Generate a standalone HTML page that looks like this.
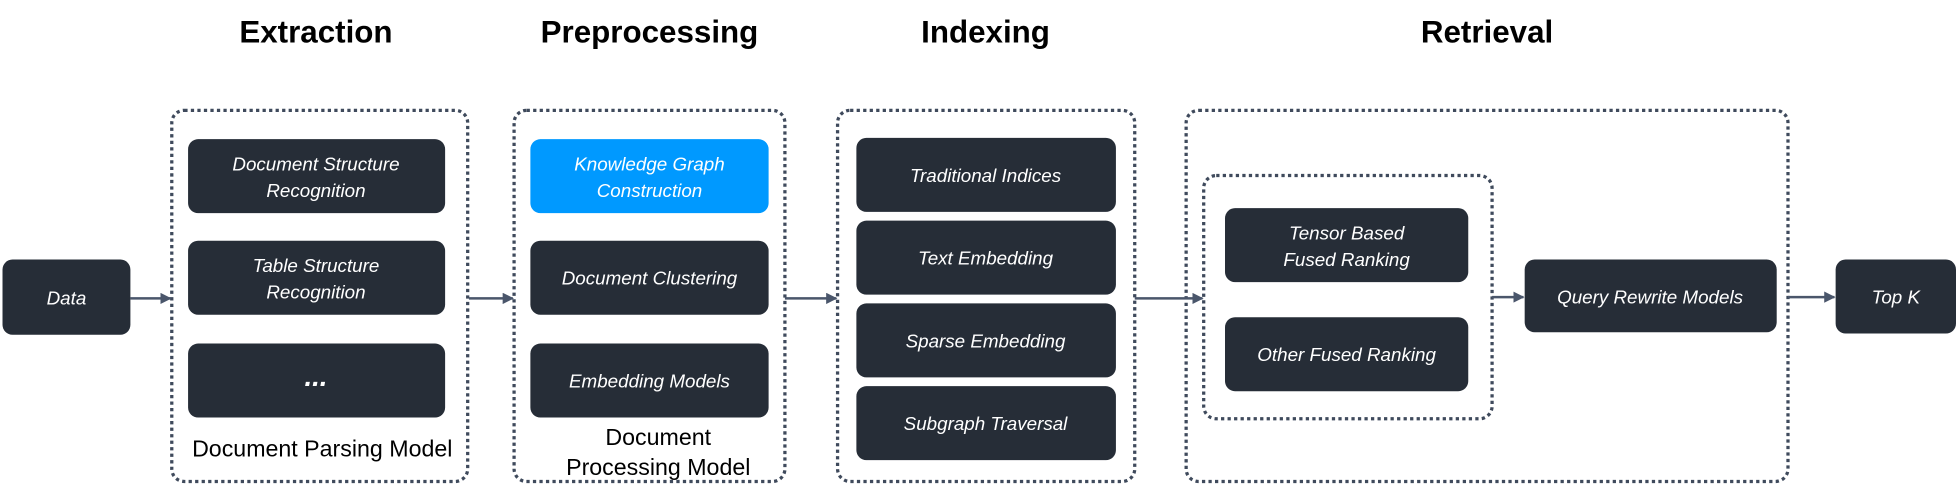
<!DOCTYPE html>
<html><head><meta charset="utf-8"><style>
html,body{margin:0;padding:0;background:#fff;width:1956px;height:491px;overflow:hidden}
svg{display:block}
.t{font-family:"Liberation Sans",sans-serif;font-weight:bold;font-size:25px;fill:#000;text-anchor:middle}
.b{fill:#262d37}
.l{font-family:"Liberation Sans",sans-serif;font-style:italic;font-size:15px;fill:#fff;text-anchor:middle}
.p{font-family:"Liberation Sans",sans-serif;font-size:18.5px;fill:#000;text-anchor:middle}
.d{fill:none;stroke:#3f4a5c;stroke-width:2.6;stroke-dasharray:2.6 2.6}
.a{stroke:#4a566b;stroke-width:2}
</style></head><body>
<svg width="1956" height="491" viewBox="0 0 1560 391.6" preserveAspectRatio="none">
<defs><marker id="m" viewBox="0 0 10 10" refX="9" refY="5" markerWidth="4.5" markerHeight="4.5" orient="auto"><path d="M0,0L10,5L0,10z" fill="#4a566b"/></marker></defs>
<text class="t" x="252" y="34">Extraction</text>
<text class="t" x="518" y="34">Preprocessing</text>
<text class="t" x="786" y="34">Indexing</text>
<text class="t" x="1186" y="34">Retrieval</text>

<rect class="d" x="137" y="88" width="236" height="296" rx="10"/>
<rect class="d" x="410" y="88" width="216" height="296" rx="10"/>
<rect class="d" x="668" y="88" width="237" height="296" rx="10"/>
<rect class="d" x="946" y="88" width="480" height="296" rx="10"/>
<rect class="d" x="960" y="140" width="230" height="194" rx="10"/>

<rect class="b" x="2" y="207" width="102" height="60" rx="8"/>
<text class="l" x="53" y="243">Data</text>

<rect class="b" x="150" y="111" width="205" height="59" rx="8"/>
<text class="l" x="252" y="136">Document Structure</text><text class="l" x="252" y="157">Recognition</text>
<rect class="b" x="150" y="192" width="205" height="59" rx="8"/>
<text class="l" x="252" y="217">Table Structure</text><text class="l" x="252" y="238">Recognition</text>
<rect class="b" x="150" y="274" width="205" height="59" rx="8"/>
<text class="l" x="252" y="308" style="font-size:22px;font-weight:bold">...</text>
<text class="p" x="257" y="364">Document Parsing Model</text>

<rect x="423" y="111" width="190" height="59" rx="8" fill="#0099ff"/>
<text class="l" x="518" y="136">Knowledge Graph</text><text class="l" x="518" y="157">Construction</text>
<rect class="b" x="423" y="192" width="190" height="59" rx="8"/>
<text class="l" x="518" y="227">Document Clustering</text>
<rect class="b" x="423" y="274" width="190" height="59" rx="8"/>
<text class="l" x="518" y="309">Embedding Models</text>
<text class="p" x="525" y="355">Document</text>
<text class="p" x="525" y="379">Processing Model</text>

<rect class="b" x="683" y="110" width="207" height="59" rx="8"/>
<text class="l" x="786" y="145">Traditional Indices</text>
<rect class="b" x="683" y="176" width="207" height="59" rx="8"/>
<text class="l" x="786" y="211">Text Embedding</text>
<rect class="b" x="683" y="242" width="207" height="59" rx="8"/>
<text class="l" x="786" y="277">Sparse Embedding</text>
<rect class="b" x="683" y="308" width="207" height="59" rx="8"/>
<text class="l" x="786" y="343">Subgraph Traversal</text>

<rect class="b" x="977" y="166" width="194" height="59" rx="8"/>
<text class="l" x="1074" y="191">Tensor Based</text><text class="l" x="1074" y="212">Fused Ranking</text>
<rect class="b" x="977" y="253" width="194" height="59" rx="8"/>
<text class="l" x="1074" y="288">Other Fused Ranking</text>
<rect class="b" x="1216" y="207" width="201" height="58" rx="8"/>
<text class="l" x="1316" y="242">Query Rewrite Models</text>
<rect class="b" x="1464" y="207" width="96" height="59" rx="8"/>
<text class="l" x="1512" y="242">Top K</text>

<line class="a" x1="104" y1="238" x2="136" y2="238" marker-end="url(#m)"/>
<line class="a" x1="374" y1="238" x2="409" y2="238" marker-end="url(#m)"/>
<line class="a" x1="626" y1="238" x2="667" y2="238" marker-end="url(#m)"/>
<line class="a" x1="905" y1="238" x2="959" y2="238" marker-end="url(#m)"/>
<line class="a" x1="1190" y1="237" x2="1215" y2="237" marker-end="url(#m)"/>
<line class="a" x1="1426" y1="237" x2="1463" y2="237" marker-end="url(#m)"/>
</svg>
</body></html>
